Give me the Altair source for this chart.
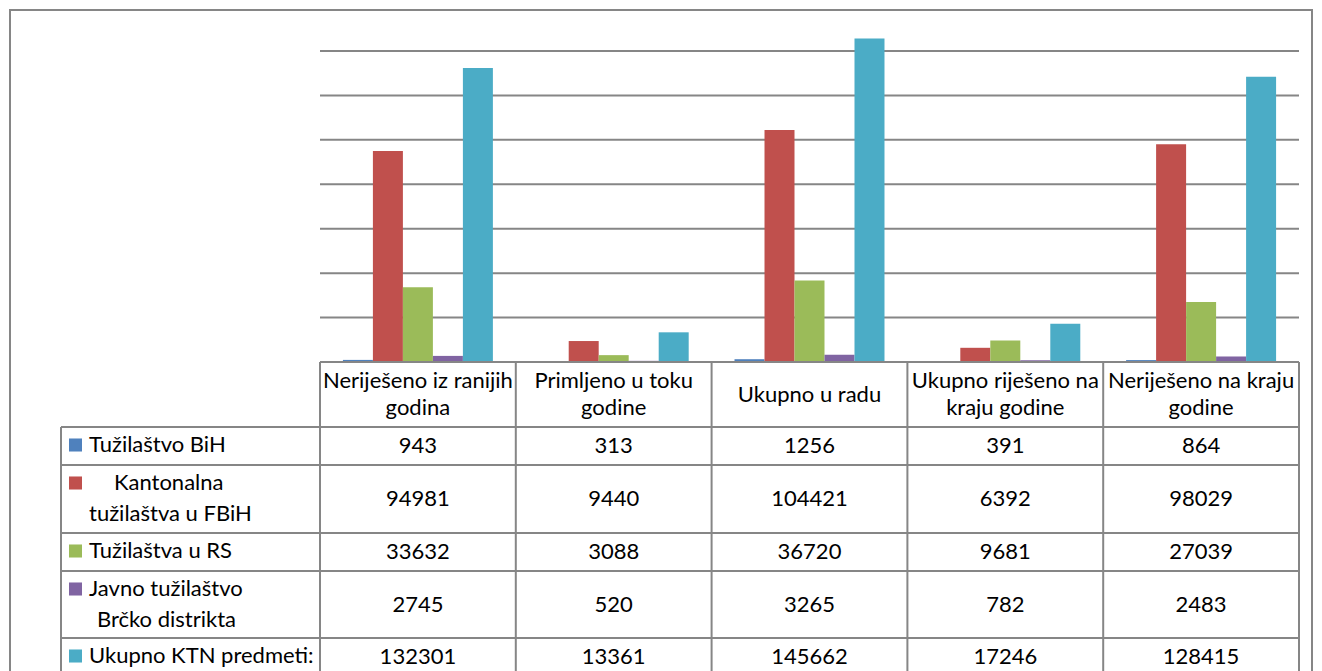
import altair as alt
import pandas as pd

# ---------------- data ----------------
categories = [
    "Neriješeno iz ranijih godina",
    "Primljeno u toku godine",
    "Ukupno u radu",
    "Ukupno riješeno na kraju godine",
    "Neriješeno na kraju godine",
]
category_lines = [
    "Neriješeno iz ranijih\ngodina",
    "Primljeno u toku\ngodine",
    "Ukupno u radu",
    "Ukupno riješeno na\nkraju godine",
    "Neriješeno na kraju\ngodine",
]
series_names = [
    "Tužilaštvo BiH",
    "Kantonalna tužilaštva u FBiH",
    "Tužilaštva u RS",
    "Javno tužilaštvo Brčko distrikta",
    "Ukupno KTN predmeti:",
]
series_label_lines = [
    ["Tužilaštvo BiH"],
    ["Kantonalna", "tužilaštva u FBiH"],
    ["Tužilaštva u RS"],
    ["Javno tužilaštvo", "Brčko distrikta"],
    ["Ukupno KTN predmeti:"],
]
tuzilastvo_bih = [943, 313, 1256, 391, 864]
kantonalna_fbih = [94981, 9440, 104421, 6392, 98029]
tuzilastva_rs = [33632, 3088, 36720, 9681, 27039]
brcko = [2745, 520, 3265, 782, 2483]
ukupno_ktn = [132301, 13361, 145662, 17246, 128415]
series_values = [tuzilastvo_bih, kantonalna_fbih, tuzilastva_rs, brcko, ukupno_ktn]
grid_values = [0, 20000, 40000, 60000, 80000, 100000, 120000, 140000]
colors = ["#4F81BD", "#C0504D", "#9BBB59", "#8064A2", "#4BACC6"]

# ---------------- layout (pixels) ----------------
OX, OY = 10, 10                    # page position of the view
W, H = 1302, 666
PLOT_L, PLOT_R = 320 - OX, 1299 - OX
BASE_Y, TOP_Y = 362 - OY, 51 - OY
TABLE_L = 61 - OX
ROW_H = [65, 38, 68, 38, 67, 38]   # header row, then one row per series
STEP = (PLOT_R - PLOT_L) / len(categories)
EDGES = [sum(ROW_H[:i]) for i in range(len(ROW_H) + 1)]
LABEL_INDENT = {(1, 0): 25, (3, 1): 8}
FONT = "Lato"
FS = 22
LINE_H = 27
LINE_COLOR = "#868686"


def to_col(px):
    return (px - PLOT_L) / STEP


col_scale = alt.Scale(domain=[0, len(categories)], range=[PLOT_L, PLOT_R], nice=False, zero=False)
cat_scale = alt.Scale(domain=categories, range=[PLOT_L, PLOT_R], paddingInner=0.234, paddingOuter=0.117)
val_scale = alt.Scale(domain=[0, 140000], range=[BASE_Y, TOP_Y], nice=False)
row_scale = alt.Scale(domain=[0, EDGES[-1]], range=[BASE_Y, BASE_Y + EDGES[-1]], nice=False, zero=False)
color_scale = alt.Scale(domain=series_names, range=colors)

# ---------------- tables for marks ----------------
bars_df = pd.DataFrame(
    [
        {"category": c, "series": s, "value": series_values[si][ci]}
        for si, s in enumerate(series_names)
        for ci, c in enumerate(categories)
    ]
)
grid_df = pd.DataFrame({"value": grid_values, "c0": 0, "c1": len(categories)})

hlines = [{"y": EDGES[0], "x0": 0, "x1": len(categories)}]
for e in EDGES[1:]:
    hlines.append({"y": e, "x0": to_col(TABLE_L), "x1": len(categories)})
hl_df = pd.DataFrame(hlines)

vlines = [{"x": to_col(TABLE_L), "y0": EDGES[1], "y1": EDGES[-1]}]
for k in range(len(categories) + 1):
    vlines.append({"x": k, "y0": EDGES[0], "y1": EDGES[-1]})
vl_df = pd.DataFrame(vlines)

header_center = (EDGES[0] + EDGES[1]) / 2
header_df = pd.DataFrame(
    {
        "category": categories,
        "text": category_lines,
        "y": [header_center - (t.count("\n")) * LINE_H / 2 for t in category_lines],
    }
)

vals = []
for si, s in enumerate(series_names):
    for ci, c in enumerate(categories):
        vals.append(
            {
                "category": c,
                "text": str(series_values[si][ci]),
                "y": (EDGES[si + 1] + EDGES[si + 2]) / 2,
            }
        )
vals_df = pd.DataFrame(vals)

markers_df = pd.DataFrame(
    [{"series": s, "x": to_col(75.5 - OX), "y": EDGES[si + 1] + 18} for si, s in enumerate(series_names)]
)

label_rows = []
for si, lines in enumerate(series_label_lines):
    for k, t in enumerate(lines):
        label_rows.append(
            {
                "text": t,
                "x": to_col(89 - OX + LABEL_INDENT.get((si, k), 0)),
                "y": EDGES[si + 1] + 18 + 31 * k,
            }
        )
labels_df = pd.DataFrame(label_rows)

# ---------------- layers ----------------
grid = alt.Chart(grid_df).mark_rule(color=LINE_COLOR, strokeWidth=2).encode(
    x=alt.X("c0:Q", scale=col_scale, axis=None),
    x2="c1:Q",
    y=alt.Y("value:Q", scale=val_scale, axis=None),
)

bars = alt.Chart(bars_df).mark_bar().encode(
    x=alt.X("category:N", scale=cat_scale, sort=categories, axis=None),
    xOffset=alt.XOffset("series:N", sort=series_names, scale=alt.Scale(domain=series_names)),
    y=alt.Y("value:Q", scale=val_scale, axis=None),
    color=alt.Color("series:N", scale=color_scale, legend=None),
)

hrules = alt.Chart(hl_df).mark_rule(color=LINE_COLOR, strokeWidth=2).encode(
    x=alt.X("x0:Q", scale=col_scale, axis=None),
    x2="x1:Q",
    y=alt.Y("y:Q", scale=row_scale, axis=None),
)

vrules = alt.Chart(vl_df).mark_rule(color=LINE_COLOR, strokeWidth=2).encode(
    x=alt.X("x:Q", scale=col_scale, axis=None),
    y=alt.Y("y0:Q", scale=row_scale, axis=None),
    y2="y1:Q",
)

header_text = alt.Chart(header_df).mark_text(
    font=FONT, fontSize=FS, color="black", baseline="middle", align="center", lineBreak="\n", lineHeight=LINE_H
).encode(
    x=alt.X("category:N", scale=cat_scale, sort=categories, axis=None),
    y=alt.Y("y:Q", scale=row_scale, axis=None),
    text="text:N",
)

value_text = alt.Chart(vals_df).mark_text(
    font=FONT, fontSize=FS, color="black", baseline="middle", align="center"
).encode(
    x=alt.X("category:N", scale=cat_scale, sort=categories, axis=None),
    y=alt.Y("y:Q", scale=row_scale, axis=None),
    text="text:N",
)

markers = alt.Chart(markers_df).mark_square(size=170, opacity=1).encode(
    x=alt.X("x:Q", scale=col_scale, axis=None),
    y=alt.Y("y:Q", scale=row_scale, axis=None),
    color=alt.Color("series:N", scale=color_scale, legend=None),
)

label_text = alt.Chart(labels_df).mark_text(
    font=FONT, fontSize=FS, color="black", baseline="middle", align="left"
).encode(
    x=alt.X("x:Q", scale=col_scale, axis=None),
    y=alt.Y("y:Q", scale=row_scale, axis=None),
    text="text:N",
)

chart = (
    alt.layer(grid, bars, hrules, vrules, header_text, value_text, markers, label_text)
    .resolve_scale(x="independent", y="independent")
    .properties(
        width=W,
        height=H,
        padding=2,
        autosize=alt.AutoSizeParams(type="none"),
        background="white",
    )
    .configure_view(stroke=LINE_COLOR, strokeWidth=2)
)

chart.save("out.html", embed_options={"renderer": "svg", "actions": False})
